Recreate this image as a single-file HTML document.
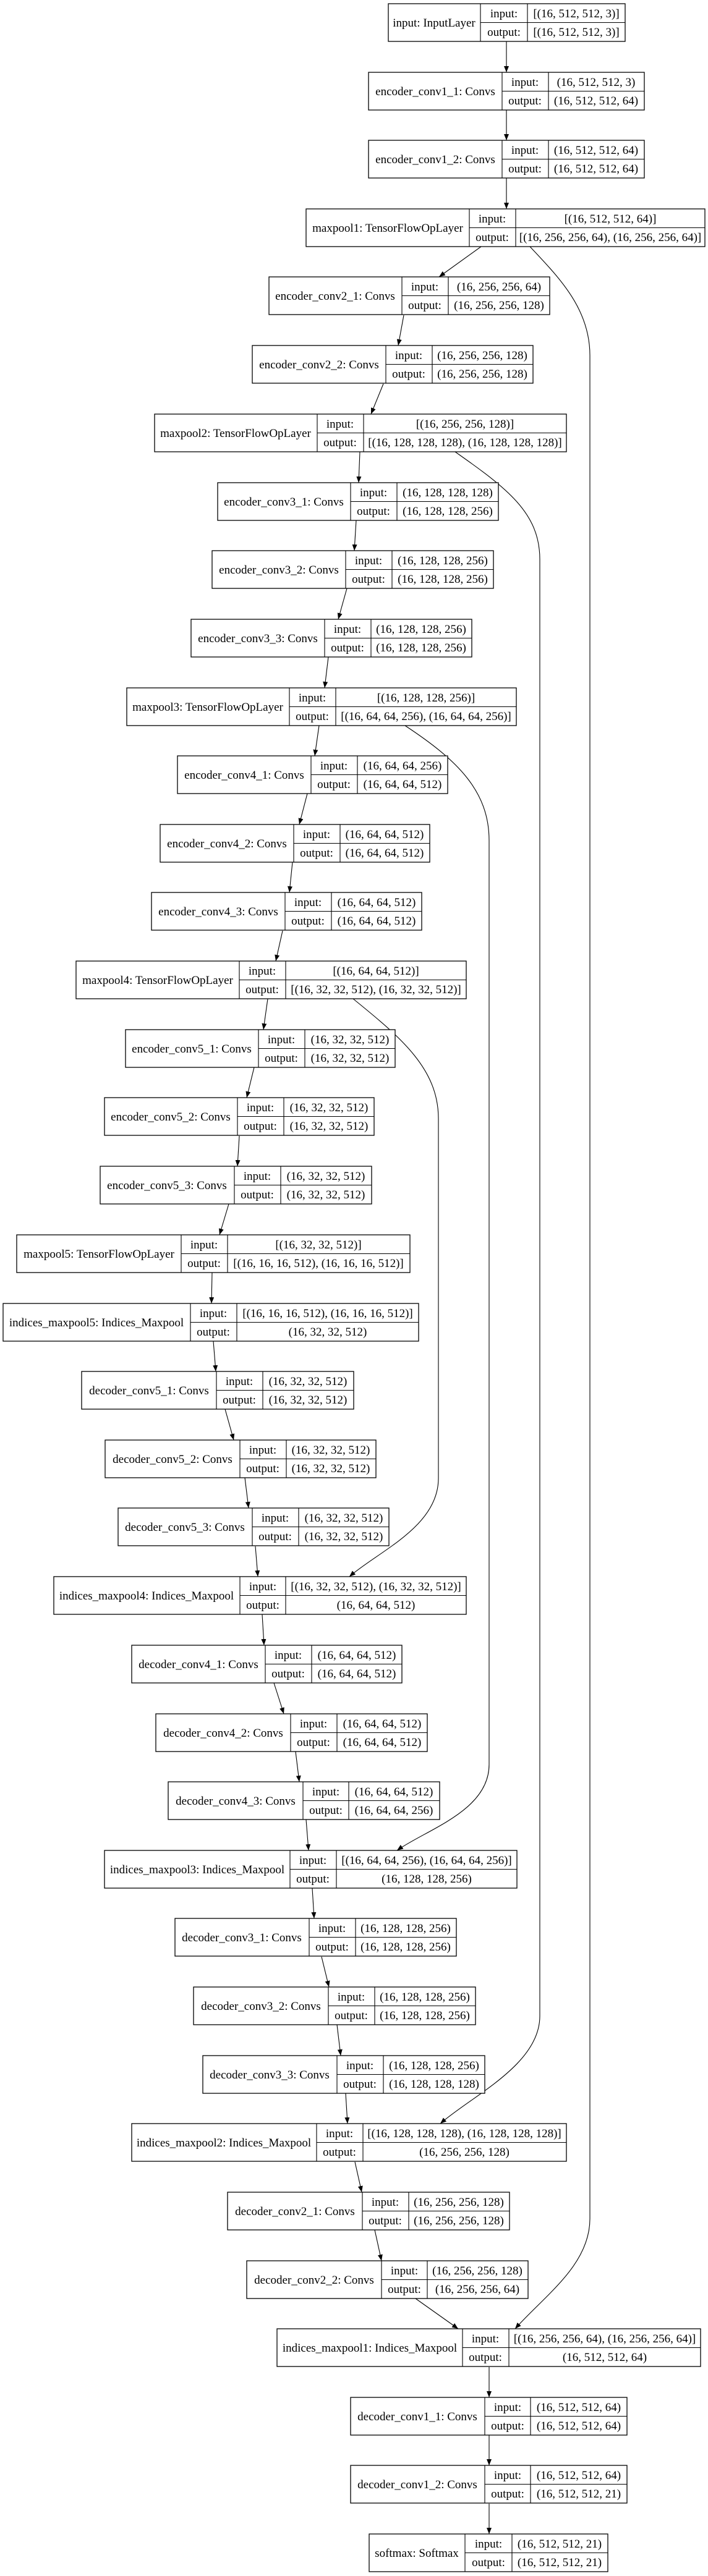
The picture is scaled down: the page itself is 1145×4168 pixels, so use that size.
<!DOCTYPE html>
<html><head><meta charset="utf-8">
<style>
html,body{margin:0;padding:0;background:#fff;}
svg{display:block;}
text{font-family:"Liberation Serif","Times New Roman",serif;font-size:19px;fill:#000;text-anchor:middle;}
rect{fill:#fff;stroke:#000;stroke-width:1.3;}
.l{stroke:#000;stroke-width:1.1;fill:none;}
.e{stroke:#000;stroke-width:1.1;fill:none;marker-end:url(#ah);}
</style></head><body>
<svg width="1145" height="4168" viewBox="0 0 1145 4168" xmlns="http://www.w3.org/2000/svg">
<defs><marker id="ah" markerUnits="userSpaceOnUse" markerWidth="10" markerHeight="8" refX="10" refY="4" orient="auto"><path d="M0,0 L10,4 L0,8 z" fill="#000"/></marker></defs>

<!-- edges -->
<path class="e" d="M819,67 L819,117"/>
<path class="e" d="M819,178 L819,227"/>
<path class="e" d="M819,288 L819,338"/>
<path class="e" d="M778,399 L710,448"/>
<path class="e" d="M653,510 L644,559"/>
<path class="e" d="M620,621 L600,670"/>
<path class="e" d="M582,731 L580,781"/>
<path class="e" d="M576,842 L573,891"/>
<path class="e" d="M561,952 L547,1002"/>
<path class="e" d="M531,1063 L525,1113"/>
<path class="e" d="M516,1174 L509,1223"/>
<path class="e" d="M497,1284 L484,1334"/>
<path class="e" d="M473,1395 L468,1444"/>
<path class="e" d="M457,1506 L446,1555"/>
<path class="e" d="M433,1616 L426,1666"/>
<path class="e" d="M411,1727 L399,1776"/>
<path class="e" d="M387,1838 L384,1887"/>
<path class="e" d="M370,1948 L355,1998"/>
<path class="e" d="M343,2059 L342,2109"/>
<path class="e" d="M345,2170 L349,2219"/>
<path class="e" d="M364,2280 L378,2330"/>
<path class="e" d="M396,2391 L402,2440"/>
<path class="e" d="M413,2502 L417,2551"/>
<path class="e" d="M424,2612 L427,2662"/>
<path class="e" d="M443,2723 L459,2773"/>
<path class="e" d="M478,2834 L484,2883"/>
<path class="e" d="M495,2944 L499,2994"/>
<path class="e" d="M505,3055 L508,3104"/>
<path class="e" d="M520,3166 L532,3215"/>
<path class="e" d="M545,3276 L551,3326"/>
<path class="e" d="M559,3387 L562,3436"/>
<path class="e" d="M574,3498 L585,3547"/>
<path class="e" d="M606,3608 L617,3658"/>
<path class="e" d="M672,3719 L741,3768"/>
<path class="e" d="M791,3830 L791,3879"/>
<path class="e" d="M791,3940 L791,3989"/>
<path class="e" d="M791,4051 L791,4100"/>
<!-- skip connections -->
<path class="e" d="M857,399 C905,450 954,500 954,575 L954,3590 C954,3665 880,3715 833,3768"/>
<path class="e" d="M736,731 C820,790 873,830 873,905 L873,3262 C873,3340 765,3390 712,3436"/>
<path class="e" d="M655,1174 C740,1230 791,1280 791,1360 L791,2855 C791,2930 690,2960 642,2994"/>
<path class="e" d="M571,1616 C650,1680 709,1730 709,1810 L709,2392 C709,2470 612,2510 565,2551"/>

<!-- nodes -->
<g transform="translate(0,6)"><rect x="628" y="0" width="383" height="61"/><path class="l" d="M777,0V61M853,0V61M777,30.5H1011"/><text x="702" y="37">input: InputLayer</text><text x="815" y="22">input:</text><text x="815" y="52">output:</text><text x="932" y="22">[(16, 512, 512, 3)]</text><text x="932" y="52">[(16, 512, 512, 3)]</text></g>
<g transform="translate(0,117)"><rect x="596" y="0" width="446" height="61"/><path class="l" d="M812,0V61M887,0V61M812,30.5H1042"/><text x="704" y="37">encoder_conv1_1: Convs</text><text x="849" y="22">input:</text><text x="849" y="52">output:</text><text x="964" y="22">(16, 512, 512, 3)</text><text x="964" y="52">(16, 512, 512, 64)</text></g>
<g transform="translate(0,227)"><rect x="596" y="0" width="446" height="61"/><path class="l" d="M812,0V61M887,0V61M812,30.5H1042"/><text x="704" y="37">encoder_conv1_2: Convs</text><text x="849" y="22">input:</text><text x="849" y="52">output:</text><text x="964" y="22">(16, 512, 512, 64)</text><text x="964" y="52">(16, 512, 512, 64)</text></g>
<g transform="translate(0,338)"><rect x="495" y="0" width="645" height="61"/><path class="l" d="M759,0V61M834,0V61M759,30.5H1140"/><text x="627" y="37">maxpool1: TensorFlowOpLayer</text><text x="796" y="22">input:</text><text x="796" y="52">output:</text><text x="987" y="22">[(16, 512, 512, 64)]</text><text x="987" y="52">[(16, 256, 256, 64), (16, 256, 256, 64)]</text></g>
<g transform="translate(0,448)"><rect x="435" y="0" width="454" height="61"/><path class="l" d="M650,0V61M725,0V61M650,30.5H889"/><text x="542" y="37">encoder_conv2_1: Convs</text><text x="687" y="22">input:</text><text x="687" y="52">output:</text><text x="807" y="22">(16, 256, 256, 64)</text><text x="807" y="52">(16, 256, 256, 128)</text></g>
<g transform="translate(0,559)"><rect x="408" y="0" width="454" height="61"/><path class="l" d="M624,0V61M699,0V61M624,30.5H862"/><text x="516" y="37">encoder_conv2_2: Convs</text><text x="661" y="22">input:</text><text x="661" y="52">output:</text><text x="780" y="22">(16, 256, 256, 128)</text><text x="780" y="52">(16, 256, 256, 128)</text></g>
<g transform="translate(0,670)"><rect x="250" y="0" width="666" height="61"/><path class="l" d="M513,0V61M588,0V61M513,30.5H916"/><text x="381" y="37">maxpool2: TensorFlowOpLayer</text><text x="550" y="22">input:</text><text x="550" y="52">output:</text><text x="752" y="22">[(16, 256, 256, 128)]</text><text x="752" y="52">[(16, 128, 128, 128), (16, 128, 128, 128)]</text></g>
<g transform="translate(0,781)"><rect x="352" y="0" width="454" height="61"/><path class="l" d="M567,0V61M642,0V61M567,30.5H806"/><text x="459" y="37">encoder_conv3_1: Convs</text><text x="604" y="22">input:</text><text x="604" y="52">output:</text><text x="724" y="22">(16, 128, 128, 128)</text><text x="724" y="52">(16, 128, 128, 256)</text></g>
<g transform="translate(0,891)"><rect x="343" y="0" width="455" height="61"/><path class="l" d="M559,0V61M634,0V61M559,30.5H798"/><text x="451" y="37">encoder_conv3_2: Convs</text><text x="596" y="22">input:</text><text x="596" y="52">output:</text><text x="716" y="22">(16, 128, 128, 256)</text><text x="716" y="52">(16, 128, 128, 256)</text></g>
<g transform="translate(0,1002)"><rect x="309" y="0" width="454" height="61"/><path class="l" d="M525,0V61M600,0V61M525,30.5H763"/><text x="417" y="37">encoder_conv3_3: Convs</text><text x="562" y="22">input:</text><text x="562" y="52">output:</text><text x="681" y="22">(16, 128, 128, 256)</text><text x="681" y="52">(16, 128, 128, 256)</text></g>
<g transform="translate(0,1113)"><rect x="205" y="0" width="630" height="61"/><path class="l" d="M468,0V61M543,0V61M468,30.5H835"/><text x="336" y="37">maxpool3: TensorFlowOpLayer</text><text x="505" y="22">input:</text><text x="505" y="52">output:</text><text x="689" y="22">[(16, 128, 128, 256)]</text><text x="689" y="52">[(16, 64, 64, 256), (16, 64, 64, 256)]</text></g>
<g transform="translate(0,1223)"><rect x="287" y="0" width="437" height="61"/><path class="l" d="M503,0V61M578,0V61M503,30.5H724"/><text x="395" y="37">encoder_conv4_1: Convs</text><text x="540" y="22">input:</text><text x="540" y="52">output:</text><text x="651" y="22">(16, 64, 64, 256)</text><text x="651" y="52">(16, 64, 64, 512)</text></g>
<g transform="translate(0,1334)"><rect x="259" y="0" width="436" height="61"/><path class="l" d="M475,0V61M550,0V61M475,30.5H695"/><text x="367" y="37">encoder_conv4_2: Convs</text><text x="512" y="22">input:</text><text x="512" y="52">output:</text><text x="622" y="22">(16, 64, 64, 512)</text><text x="622" y="52">(16, 64, 64, 512)</text></g>
<g transform="translate(0,1444)"><rect x="245" y="0" width="437" height="61"/><path class="l" d="M461,0V61M536,0V61M461,30.5H682"/><text x="353" y="37">encoder_conv4_3: Convs</text><text x="498" y="22">input:</text><text x="498" y="52">output:</text><text x="609" y="22">(16, 64, 64, 512)</text><text x="609" y="52">(16, 64, 64, 512)</text></g>
<g transform="translate(0,1555)"><rect x="123" y="0" width="631" height="61"/><path class="l" d="M387,0V61M462,0V61M387,30.5H754"/><text x="255" y="37">maxpool4: TensorFlowOpLayer</text><text x="424" y="22">input:</text><text x="424" y="52">output:</text><text x="608" y="22">[(16, 64, 64, 512)]</text><text x="608" y="52">[(16, 32, 32, 512), (16, 32, 32, 512)]</text></g>
<g transform="translate(0,1666)"><rect x="203" y="0" width="436" height="61"/><path class="l" d="M418,0V61M493,0V61M418,30.5H639"/><text x="310" y="37">encoder_conv5_1: Convs</text><text x="455" y="22">input:</text><text x="455" y="52">output:</text><text x="566" y="22">(16, 32, 32, 512)</text><text x="566" y="52">(16, 32, 32, 512)</text></g>
<g transform="translate(0,1776)"><rect x="169" y="0" width="436" height="61"/><path class="l" d="M384,0V61M459,0V61M384,30.5H605"/><text x="276" y="37">encoder_conv5_2: Convs</text><text x="421" y="22">input:</text><text x="421" y="52">output:</text><text x="532" y="22">(16, 32, 32, 512)</text><text x="532" y="52">(16, 32, 32, 512)</text></g>
<g transform="translate(0,1887)"><rect x="162" y="0" width="439" height="61"/><path class="l" d="M379,0V61M454,0V61M379,30.5H601"/><text x="270" y="37">encoder_conv5_3: Convs</text><text x="416" y="22">input:</text><text x="416" y="52">output:</text><text x="527" y="22">(16, 32, 32, 512)</text><text x="527" y="52">(16, 32, 32, 512)</text></g>
<g transform="translate(0,1998)"><rect x="27" y="0" width="636" height="61"/><path class="l" d="M293,0V61M368,0V61M293,30.5H663"/><text x="160" y="37">maxpool5: TensorFlowOpLayer</text><text x="330" y="22">input:</text><text x="330" y="52">output:</text><text x="515" y="22">[(16, 32, 32, 512)]</text><text x="515" y="52">[(16, 16, 16, 512), (16, 16, 16, 512)]</text></g>
<g transform="translate(0,2109)"><rect x="5" y="0" width="672" height="61"/><path class="l" d="M308,0V61M383,0V61M308,30.5H677"/><text x="156" y="37">indices_maxpool5: Indices_Maxpool</text><text x="345" y="22">input:</text><text x="345" y="52">output:</text><text x="530" y="22">[(16, 16, 16, 512), (16, 16, 16, 512)]</text><text x="530" y="52">(16, 32, 32, 512)</text></g>
<g transform="translate(0,2219)"><rect x="132" y="0" width="440" height="61"/><path class="l" d="M350,0V61M425,0V61M350,30.5H572"/><text x="241" y="37">decoder_conv5_1: Convs</text><text x="387" y="22">input:</text><text x="387" y="52">output:</text><text x="498" y="22">(16, 32, 32, 512)</text><text x="498" y="52">(16, 32, 32, 512)</text></g>
<g transform="translate(0,2330)"><rect x="170" y="0" width="438" height="61"/><path class="l" d="M388,0V61M463,0V61M388,30.5H608"/><text x="279" y="37">decoder_conv5_2: Convs</text><text x="425" y="22">input:</text><text x="425" y="52">output:</text><text x="535" y="22">(16, 32, 32, 512)</text><text x="535" y="52">(16, 32, 32, 512)</text></g>
<g transform="translate(0,2440)"><rect x="191" y="0" width="438" height="61"/><path class="l" d="M408,0V61M483,0V61M408,30.5H629"/><text x="299" y="37">decoder_conv5_3: Convs</text><text x="445" y="22">input:</text><text x="445" y="52">output:</text><text x="556" y="22">(16, 32, 32, 512)</text><text x="556" y="52">(16, 32, 32, 512)</text></g>
<g transform="translate(0,2551)"><rect x="87" y="0" width="667" height="61"/><path class="l" d="M388,0V61M462,0V61M388,30.5H754"/><text x="237" y="37">indices_maxpool4: Indices_Maxpool</text><text x="425" y="22">input:</text><text x="425" y="52">output:</text><text x="608" y="22">[(16, 32, 32, 512), (16, 32, 32, 512)]</text><text x="608" y="52">(16, 64, 64, 512)</text></g>
<g transform="translate(0,2662)"><rect x="213" y="0" width="437" height="61"/><path class="l" d="M429,0V61M504,0V61M429,30.5H650"/><text x="321" y="37">decoder_conv4_1: Convs</text><text x="466" y="22">input:</text><text x="466" y="52">output:</text><text x="577" y="22">(16, 64, 64, 512)</text><text x="577" y="52">(16, 64, 64, 512)</text></g>
<g transform="translate(0,2773)"><rect x="252" y="0" width="439" height="61"/><path class="l" d="M470,0V61M545,0V61M470,30.5H691"/><text x="361" y="37">decoder_conv4_2: Convs</text><text x="507" y="22">input:</text><text x="507" y="52">output:</text><text x="618" y="22">(16, 64, 64, 512)</text><text x="618" y="52">(16, 64, 64, 512)</text></g>
<g transform="translate(0,2883)"><rect x="272" y="0" width="439" height="61"/><path class="l" d="M490,0V61M564,0V61M490,30.5H711"/><text x="381" y="37">decoder_conv4_3: Convs</text><text x="527" y="22">input:</text><text x="527" y="52">output:</text><text x="637" y="22">(16, 64, 64, 512)</text><text x="637" y="52">(16, 64, 64, 256)</text></g>
<g transform="translate(0,2994)"><rect x="169" y="0" width="667" height="61"/><path class="l" d="M469,0V61M544,0V61M469,30.5H836"/><text x="319" y="37">indices_maxpool3: Indices_Maxpool</text><text x="506" y="22">input:</text><text x="506" y="52">output:</text><text x="690" y="22">[(16, 64, 64, 256), (16, 64, 64, 256)]</text><text x="690" y="52">(16, 128, 128, 256)</text></g>
<g transform="translate(0,3104)"><rect x="283" y="0" width="455" height="61"/><path class="l" d="M500,0V61M575,0V61M500,30.5H738"/><text x="391" y="37">decoder_conv3_1: Convs</text><text x="537" y="22">input:</text><text x="537" y="52">output:</text><text x="656" y="22">(16, 128, 128, 256)</text><text x="656" y="52">(16, 128, 128, 256)</text></g>
<g transform="translate(0,3215)"><rect x="313" y="0" width="456" height="61"/><path class="l" d="M531,0V61M606,0V61M531,30.5H769"/><text x="422" y="37">decoder_conv3_2: Convs</text><text x="568" y="22">input:</text><text x="568" y="52">output:</text><text x="687" y="22">(16, 128, 128, 256)</text><text x="687" y="52">(16, 128, 128, 256)</text></g>
<g transform="translate(0,3326)"><rect x="328" y="0" width="456" height="61"/><path class="l" d="M545,0V61M620,0V61M545,30.5H784"/><text x="436" y="37">decoder_conv3_3: Convs</text><text x="582" y="22">input:</text><text x="582" y="52">output:</text><text x="702" y="22">(16, 128, 128, 256)</text><text x="702" y="52">(16, 128, 128, 128)</text></g>
<g transform="translate(0,3436)"><rect x="213" y="0" width="703" height="61"/><path class="l" d="M512,0V61M587,0V61M512,30.5H916"/><text x="362" y="37">indices_maxpool2: Indices_Maxpool</text><text x="549" y="22">input:</text><text x="549" y="52">output:</text><text x="751" y="22">[(16, 128, 128, 128), (16, 128, 128, 128)]</text><text x="751" y="52">(16, 256, 256, 128)</text></g>
<g transform="translate(0,3547)"><rect x="368" y="0" width="456" height="61"/><path class="l" d="M586,0V61M661,0V61M586,30.5H824"/><text x="477" y="37">decoder_conv2_1: Convs</text><text x="623" y="22">input:</text><text x="623" y="52">output:</text><text x="742" y="22">(16, 256, 256, 128)</text><text x="742" y="52">(16, 256, 256, 128)</text></g>
<g transform="translate(0,3658)"><rect x="399" y="0" width="455" height="61"/><path class="l" d="M617,0V61M691,0V61M617,30.5H854"/><text x="508" y="37">decoder_conv2_2: Convs</text><text x="654" y="22">input:</text><text x="654" y="52">output:</text><text x="772" y="22">(16, 256, 256, 128)</text><text x="772" y="52">(16, 256, 256, 64)</text></g>
<g transform="translate(0,3768)"><rect x="448" y="0" width="685" height="61"/><path class="l" d="M748,0V61M823,0V61M748,30.5H1133"/><text x="598" y="37">indices_maxpool1: Indices_Maxpool</text><text x="785" y="22">input:</text><text x="785" y="52">output:</text><text x="978" y="22">[(16, 256, 256, 64), (16, 256, 256, 64)]</text><text x="978" y="52">(16, 512, 512, 64)</text></g>
<g transform="translate(0,3879)"><rect x="567" y="0" width="447" height="61"/><path class="l" d="M784,0V61M858,0V61M784,30.5H1014"/><text x="675" y="37">decoder_conv1_1: Convs</text><text x="821" y="22">input:</text><text x="821" y="52">output:</text><text x="936" y="22">(16, 512, 512, 64)</text><text x="936" y="52">(16, 512, 512, 64)</text></g>
<g transform="translate(0,3989)"><rect x="567" y="0" width="447" height="61"/><path class="l" d="M784,0V61M858,0V61M784,30.5H1014"/><text x="675" y="37">decoder_conv1_2: Convs</text><text x="821" y="22">input:</text><text x="821" y="52">output:</text><text x="936" y="22">(16, 512, 512, 64)</text><text x="936" y="52">(16, 512, 512, 21)</text></g>
<g transform="translate(0,4100)"><rect x="597" y="0" width="386" height="61"/><path class="l" d="M752,0V61M828,0V61M752,30.5H983"/><text x="674" y="37">softmax: Softmax</text><text x="790" y="22">input:</text><text x="790" y="52">output:</text><text x="905" y="22">(16, 512, 512, 21)</text><text x="905" y="52">(16, 512, 512, 21)</text></g>
</svg>
</body></html>
